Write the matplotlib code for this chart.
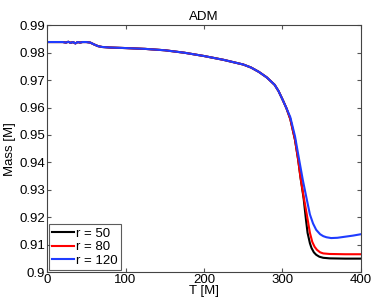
import matplotlib
matplotlib.use('Agg')
import matplotlib.pyplot as plt
from matplotlib.ticker import FuncFormatter

plt.rcParams['font.family'] = ['Liberation Sans', 'DejaVu Sans']

# values (shared part before the curves split)
t_early = [0, 10, 20, 24, 27, 30, 33, 36, 39, 42, 45, 50, 55, 60, 65, 70, 80, 100, 125, 150,
           175, 200, 225, 250, 260, 270, 280, 290, 295, 300, 305, 310, 316, 320]
m_early = [0.9839, 0.9839, 0.9839, 0.9837, 0.9840, 0.9836, 0.9839, 0.9834, 0.9839, 0.9837, 0.9839,
           0.9839, 0.9837, 0.9830, 0.9824, 0.9821, 0.9819, 0.9817, 0.9814, 0.9809,
           0.9800, 0.9788, 0.9774, 0.9757, 0.9746, 0.9730, 0.9710, 0.9683, 0.9660, 0.9630,
           0.9598, 0.9558, 0.9482, 0.9410]

t_r50 = [323, 327, 330, 332, 335, 337, 340, 343, 347, 352, 360, 380, 400]
m_r50 = [0.9345, 0.9268, 0.9190, 0.9143, 0.9105, 0.9088, 0.9072, 0.9063, 0.9056, 0.9052, 0.9050,
         0.9049, 0.9049]

t_r80 = [323, 327, 331, 335, 338, 341, 344, 348, 352, 360, 380, 400]
m_r80 = [0.9345, 0.9275, 0.9210, 0.9143, 0.9110, 0.9092, 0.9081, 0.9072, 0.9068, 0.9066, 0.9065,
         0.9065]

t_r120 = [310, 316, 320, 326, 331, 335, 339, 343, 348, 352, 356, 362, 370, 380, 390, 400]
m_r120 = [0.9565, 0.9495, 0.9430, 0.9335, 0.9265, 0.9210, 0.9177, 0.9154, 0.9138, 0.9131, 0.9127,
          0.9124, 0.9125, 0.9129, 0.9133, 0.9138]

labels = ['r = 50', 'r = 80', 'r = 120']
colors = ['black', 'red', '#1f3cff']

fig = plt.figure(figsize=(3.74, 3.05), dpi=100)
ax = fig.add_axes([0.126, 0.108, 0.839, 0.809])

i_split = t_early.index(305) + 1
t50 = t_early + t_r50
m50 = m_early + m_r50
t80 = t_early + t_r80
m80 = m_early + m_r80
t120 = t_early[:i_split] + t_r120
m120 = m_early[:i_split] + m_r120

ax.plot(t50, m50, color=colors[0], lw=1.5, label=labels[0])
ax.plot(t80, m80, color=colors[1], lw=1.5, label=labels[1])
ax.plot(t120, m120, color=colors[2], lw=1.5, label=labels[2])

ax.set_xlim(0, 400)
ax.set_ylim(0.9, 0.99)
ax.set_xticks([0, 100, 200, 300, 400])
ax.set_yticks([0.9, 0.91, 0.92, 0.93, 0.94, 0.95, 0.96, 0.97, 0.98, 0.99])
ax.yaxis.set_major_formatter(FuncFormatter(lambda v, p: '%g' % round(v, 2)))
ax.tick_params(direction='in', top=True, right=True, labelsize=9.5, length=3,
               color='#555555', pad=1.5)
for s in ax.spines.values():
    s.set_color('#444444')
    s.set_linewidth(0.8)

ax.set_title('ADM', fontsize=9.5, pad=4)
ax.set_xlabel('T [M]', fontsize=9.5, labelpad=-1)
ax.set_ylabel('Mass [M]', fontsize=9.5, labelpad=2)

leg = ax.legend(loc='lower left', fontsize=9.5, frameon=True, fancybox=False,
                edgecolor='#333333', borderaxespad=0.15, handlelength=1.6,
                handletextpad=0.2, labelspacing=0.1, borderpad=0.25)
leg.get_frame().set_linewidth(0.8)

fig.savefig('out.png', dpi=100)
